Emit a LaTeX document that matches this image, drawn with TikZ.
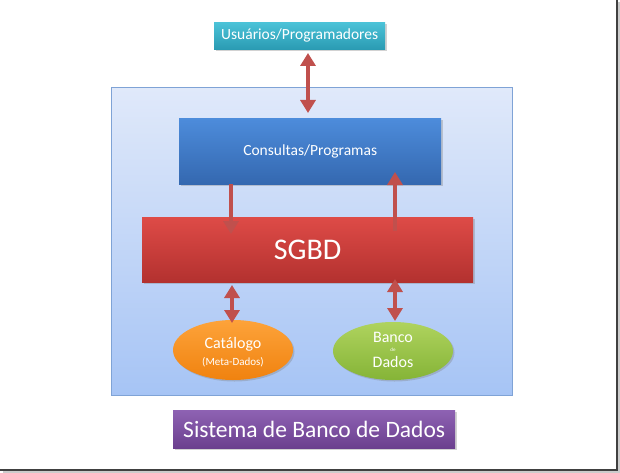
\documentclass[tikz,border=0pt]{standalone}
\usepackage{fontspec}
\setmainfont{Carlito}
\usetikzlibrary{arrows.meta,shadows,shapes.geometric}
\definecolor{arrred}{HTML}{C0504D}
\definecolor{teal1}{HTML}{4CC3D8}
\definecolor{teal2}{HTML}{2A9BB3}
\definecolor{blue1}{HTML}{4D8CDB}
\definecolor{blue2}{HTML}{3468B0}
\definecolor{red1}{HTML}{DE4B47}
\definecolor{red2}{HTML}{B3312F}
\definecolor{or1}{HTML}{FDA33A}
\definecolor{or2}{HTML}{F0820F}
\definecolor{gr1}{HTML}{AFD35E}
\definecolor{gr2}{HTML}{85B437}
\definecolor{pu1}{HTML}{8E62B3}
\definecolor{pu2}{HTML}{6B3F8E}
\definecolor{cont1}{HTML}{E0E9FA}
\definecolor{cont2}{HTML}{A6C4F5}
\definecolor{contb}{HTML}{7FA3D6}
\tikzset{
  x=1pt,y=-1pt,
  box/.style={draw=none, text=white, inner sep=0pt, drop shadow={shadow xshift=1.5pt,shadow yshift=-1.5pt,opacity=0.35}},
  oval/.style={ellipse, draw=none, text=white, inner sep=0pt, align=center, drop shadow={shadow xshift=1.5pt,shadow yshift=-1.5pt,opacity=0.35}},
  conn/.style={draw=arrred, line width=4pt, -{Triangle[width=15pt,length=13pt]}},
  conn2/.style={draw=arrred, line width=4pt, {Triangle[width=15pt,length=13pt]}-{Triangle[width=15pt,length=13pt]}},
}
\begin{document}
\begin{tikzpicture}
\useasboundingbox (0,0) rectangle (620,473);
\fill[white] (0,0) rectangle (620,473);
% frame
\draw[gray!40, line width=2pt] (619,2) -- (619,472) -- (3,472);
\draw[black!75, line width=1.2pt] (617,0) -- (617,470) -- (0,470);
% container
\node[draw=contb, line width=0.8pt, top color=cont1, bottom color=cont2, minimum width=401pt, minimum height=308pt, inner sep=0pt, anchor=north west] (cont) at (111,87) {};
% nodes
\node[box, top color=teal1, bottom color=teal2, minimum width=171pt, minimum height=27pt, anchor=north west, font=\fontsize{15.5}{17}\selectfont] (users) at (214,22) {Usuários/Programadores};
\node[box, top color=blue1, bottom color=blue2, minimum width=262pt, minimum height=66pt, anchor=north west, font=\fontsize{15.5}{17}\selectfont] (cons) at (179,118) {Consultas/Programas};
\node[box, top color=red1, bottom color=red2, minimum width=331pt, minimum height=65pt, anchor=north west, font=\fontsize{30}{32}\selectfont] (sgbd) at (142,217) {SGBD};
\node[oval, top color=or1, bottom color=or2, minimum width=120pt, minimum height=60pt] (cat) at (233,350) {};
\node[font=\fontsize{16}{17}\selectfont, text=white, inner sep=0pt] (catt) at (233,344) {Catálogo};
\node[font=\fontsize{11}{12}\selectfont, text=white, inner sep=0pt] (catm) at (233,362) {(Meta-Dados)};
\node[oval, top color=gr1, bottom color=gr2, minimum width=120pt, minimum height=58pt] (bd) at (393,351) {};
\node[font=\fontsize{16}{17}\selectfont, text=white, inner sep=0pt] (bd1) at (393,337) {Banco};
\node[font=\fontsize{5}{5}\selectfont, text=white, inner sep=0pt] (bd2) at (393,350) {de};
\node[font=\fontsize{16}{17}\selectfont, text=white, inner sep=0pt] (bd3) at (393,362) {Dados};
\node[box, top color=pu1, bottom color=pu2, minimum width=282pt, minimum height=38pt, anchor=north west, font=\fontsize{23.5}{25}\selectfont] (sys) at (173,410) {Sistema de Banco de Dados};
% connectors
\draw[conn2] (308,53) coordinate (u1) -- (308,113) coordinate (u2);
\draw[conn] (231,184) coordinate (c1) -- (231,234) coordinate (s1);
\draw[conn] (395,231) coordinate (s2) -- (395,172) coordinate (c2);
\draw[conn2] (232,285) coordinate (s3) -- (232,323) coordinate (k1);
\draw[conn2] (395,279) coordinate (s4) -- (395,321) coordinate (k2);
\end{tikzpicture}
\end{document}
